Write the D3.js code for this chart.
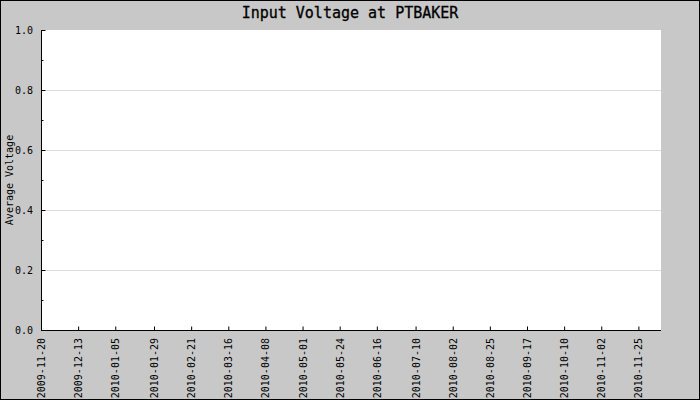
<!DOCTYPE html>
<html>
<head>
<meta charset="utf-8">
<script src="https://cdn.jsdelivr.net/npm/d3@7"></script>
<style>
  body { margin: 0; background: #fff; }
  svg { display: block; }
  text { font-family: "DejaVu Sans Mono", monospace; fill: #000; }
</style>
</head>
<body>
<svg width="700" height="400"></svg>
<script>
let title = "Input Voltage at PTBAKER", yLabel = "Average Voltage";
let xStart = "2009-11-20", xEnd = "2010-12-09";
let xTickLabels = ["2009-11-20", "2009-12-13", "2010-01-05", "2010-01-29", "2010-02-21",
	"2010-03-16", "2010-04-08", "2010-05-01", "2010-05-24", "2010-06-16", "2010-07-10",
	"2010-08-02", "2010-08-25", "2010-09-17", "2010-10-10", "2010-11-02", "2010-11-25"];
let yTicks = [0.0, 0.2, 0.4, 0.6, 0.8, 1.0];
let yMinorTicks = [0.1, 0.3, 0.5, 0.7, 0.9];
let voltage = []; // no readings in the period

let width = 700, height = 400;
let padLeft = 41, padRight = 661, padTop = 30, padBottom = 330;

var svg = d3.select('svg');
var parse = d3.utcParse('%Y-%m-%d');

var x = d3.scaleUtc()
	.domain([parse(xStart), parse(xEnd)])
	.range([padLeft, padRight]);
var y = d3.scaleLinear()
	.domain([0, 1])
	.range([padBottom, padTop]);

// background
svg.append('rect')
	.attr('x', 0.5).attr('y', 0.5)
	.attr('width', width - 1).attr('height', height - 1)
	.attr('fill', '#c8c8c8')
	.attr('stroke', '#000');
svg.append('rect')
	.attr('x', padLeft).attr('y', padTop)
	.attr('width', padRight - padLeft).attr('height', padBottom - padTop)
	.attr('fill', '#fff');

// grid
svg.append('g')
	.selectAll('line')
	.data(yTicks.slice(1, -1))
	.join('line')
	.attr('x1', padLeft).attr('x2', padRight)
	.attr('y1', d => Math.round(y(d)) + 0.5)
	.attr('y2', d => Math.round(y(d)) + 0.5)
	.attr('stroke', '#dcdcdc');

// data line (empty)
svg.append('path')
	.datum(voltage)
	.attr('fill', 'none')
	.attr('stroke', '#0000ff')
	.attr('d', d3.line().x(d => x(parse(d.date))).y(d => y(d.value)));

// y axis
var yAxis = svg.append('g')
	.attr('transform', 'translate(' + (padLeft + 0.5) + ',0)')
	.call(d3.axisRight(y).tickValues(yTicks).tickSize(4).tickFormat(''));
yAxis.select('.domain').remove();
yAxis.selectAll('line').attr('stroke', '#000');
svg.append('g')
	.attr('transform', 'translate(' + (padLeft + 0.5) + ',0)')
	.call(d3.axisRight(y).tickValues(yMinorTicks).tickSize(2).tickFormat(''))
	.call(g => g.select('.domain').remove());
svg.append('line')
	.attr('x1', padLeft + 0.5).attr('x2', padLeft + 0.5)
	.attr('y1', padTop).attr('y2', padBottom + 1)
	.attr('stroke', '#000');
svg.append('g')
	.selectAll('text')
	.data(yTicks)
	.join('text')
	.attr('x', padLeft - 8)
	.attr('y', d => y(d) + 4)
	.attr('text-anchor', 'end')
	.attr('font-size', '10px')
	.text(d => d.toFixed(1));

// x axis
var xAxis = svg.append('g')
	.attr('transform', 'translate(0,' + (padBottom + 0.5) + ')')
	.call(d3.axisTop(x).tickValues(xTickLabels.map(parse)).tickSize(4).tickFormat(''));
xAxis.select('.domain').remove();
svg.append('line')
	.attr('x1', padLeft).attr('x2', padRight)
	.attr('y1', padBottom + 0.5).attr('y2', padBottom + 0.5)
	.attr('stroke', '#000');
svg.append('g')
	.selectAll('text')
	.data(xTickLabels)
	.join('text')
	.attr('transform', d => 'translate(' + (x(parse(d)) + 4) + ',' + (padBottom + 8) + ') rotate(-90)')
	.attr('text-anchor', 'end')
	.attr('font-size', '10px')
	.text(d => d);

// titles
svg.append('text')
	.attr('x', width / 2)
	.attr('y', 18)
	.attr('text-anchor', 'middle')
	.attr('font-size', '15px')
	.attr('stroke', '#000')
	.attr('stroke-width', 0.3)
	.text(title);
svg.append('text')
	.attr('transform', 'translate(13,' + ((padTop + padBottom) / 2) + ') rotate(-90)')
	.attr('text-anchor', 'middle')
	.attr('font-size', '10px')
	.text(yLabel);
</script>
</body>
</html>
